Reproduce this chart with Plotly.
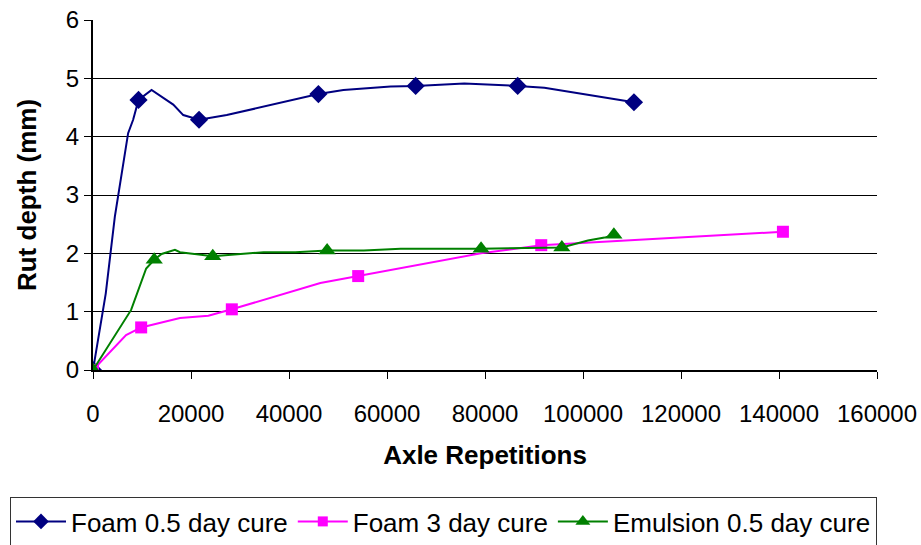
import plotly.graph_objects as go

# Foam 0.5 day cure
foam05_x = [0, 2600, 4460, 7170, 8190, 9290, 11950, 16380, 18420, 21640, 27300, 46000,
            51100, 60740, 65850, 75770, 86670, 92120, 110400]
foam05_y = [0, 1.31, 2.63, 4.06, 4.29, 4.63, 4.80, 4.55, 4.37, 4.29, 4.37, 4.73,
            4.80, 4.86, 4.87, 4.91, 4.87, 4.84, 4.59]
foam05_mx = [0, 9290, 21640, 46000, 65850, 86670, 110400]
foam05_my = [0, 4.63, 4.29, 4.73, 4.87, 4.87, 4.59]

# Foam 3 day cure
foam3_x = [0, 6750, 9830, 13650, 17750, 23540, 28330, 46400, 54120, 62780, 70000,
           79160, 91480, 120000, 140800]
foam3_y = [0, 0.60, 0.73, 0.81, 0.89, 0.93, 1.04, 1.49, 1.61, 1.74, 1.86,
           2.00, 2.14, 2.28, 2.37]
foam3_mx = [0, 9830, 28330, 54120, 91480, 140800]
foam3_my = [0, 0.73, 1.04, 1.61, 2.14, 2.37]

# Emulsion 0.5 day cure
emul_x = [0, 7780, 10850, 12490, 14000, 16720, 17750, 24440, 34800, 41290, 47780,
          55270, 62780, 79200, 95680, 101000, 104400, 106300]
emul_y = [0, 1.03, 1.74, 1.89, 1.99, 2.06, 2.02, 1.95, 2.02, 2.02, 2.05,
          2.05, 2.08, 2.08, 2.10, 2.22, 2.27, 2.32]
emul_mx = [0, 12490, 24440, 47780, 79200, 95680, 106300]
emul_my = [0, 1.89, 1.95, 2.05, 2.08, 2.10, 2.32]

x_ticks = [0, 20000, 40000, 60000, 80000, 100000, 120000, 140000, 160000]
y_ticks = [0, 1, 2, 3, 4, 5, 6]

series = [
    ("Foam 0.5 day cure", foam05_x, foam05_y, foam05_mx, foam05_my, "#000080", "diamond", 14),
    ("Foam 3 day cure", foam3_x, foam3_y, foam3_mx, foam3_my, "#FF00FF", "square", 12),
    ("Emulsion 0.5 day cure", emul_x, emul_y, emul_mx, emul_my, "#008000", "triangle-up", 15),
]

fig = go.Figure()
for name, x, y, mx, my, color, sym, size in series:
    fig.add_trace(go.Scatter(x=x, y=y, mode="lines", line=dict(color=color, width=2),
                             showlegend=False, hoverinfo="skip"))
    fig.add_trace(go.Scatter(x=mx, y=my, mode="markers",
                             marker=dict(color=color, symbol=sym, size=size),
                             showlegend=False))
    fig.add_trace(go.Scatter(x=[None], y=[None], mode="lines+markers", name=name,
                             line=dict(color=color, width=2),
                             marker=dict(color=color, symbol=sym, size=size - 2)))

font_family = "Liberation Sans, Arial, sans-serif"
fig.update_layout(
    width=921, height=545,
    margin=dict(l=93, r=44, t=20, b=175, autoexpand=False),
    paper_bgcolor="white", plot_bgcolor="white",
    font=dict(family=font_family, color="black", size=24),
    xaxis=dict(
        range=[0, 160000], tickvals=x_ticks, ticktext=[str(v) for v in x_ticks],
        showgrid=False, zeroline=False, showline=True, linecolor="black", linewidth=1.5,
        ticks="outside", ticklen=7, tickcolor="black", tickwidth=1,
        ticklabelstandoff=14, tickfont=dict(size=24),
        title=dict(text="<b>Axle Repetitions</b>", font=dict(size=26), standoff=20),
    ),
    yaxis=dict(
        range=[0, 6], tickvals=y_ticks,
        showgrid=True, gridcolor="black", gridwidth=1,
        zeroline=False, showline=True, linecolor="black", linewidth=2,
        ticks="outside", ticklen=7, tickcolor="black", tickwidth=1,
        tickfont=dict(size=24),
        title=dict(text="<b>Rut depth (mm)</b>", font=dict(size=26), standoff=22),
    ),
    legend=dict(
        orientation="h", xref="paper", yref="paper",
        x=(10 - 93) / 784, y=(370 - 497) / 350, xanchor="left", yanchor="top",
        bordercolor="#333333", borderwidth=1, font=dict(size=26),
        bgcolor="white", itemwidth=50,
    ),
)

fig.write_html("out.html")
